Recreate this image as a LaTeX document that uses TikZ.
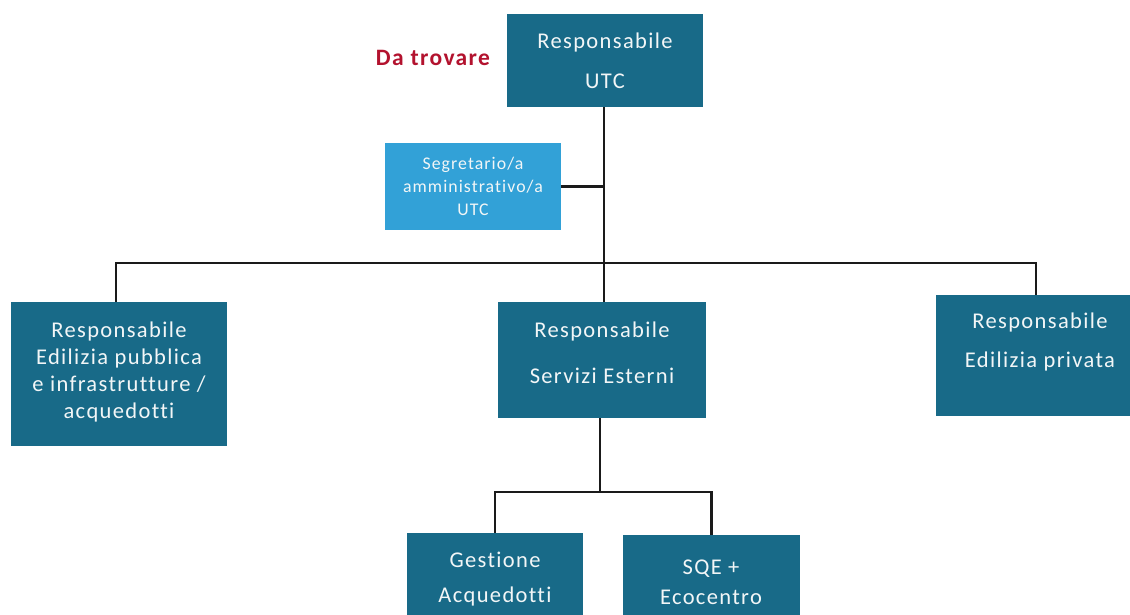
\documentclass[tikz,border=0pt]{standalone}
\usepackage{fontspec}
\setmainfont{Carlito}[LetterSpace=6, Ligatures={NoCommon,NoDiscretionary,NoRare}]
\definecolor{teal1}{HTML}{186A88}
\definecolor{sky1}{HTML}{32A1D7}
\definecolor{red1}{HTML}{B3122E}
\definecolor{line1}{HTML}{1A1A1A}
\definecolor{txt1}{HTML}{F2F6F7}
\tikzset{
  box/.style={fill=teal1, draw=none, inner sep=0pt},
  sbox/.style={fill=sky1, draw=none, inner sep=0pt},
  txt/.style={text=txt1, align=center, font=\fontsize{22.5}{27}\selectfont, inner sep=0pt},
  stxt/.style={text=txt1, align=center, font=\fontsize{17.8}{23}\selectfont, inner sep=0pt},
  conn/.style={draw=line1, line width=2.6pt},
}
\begin{document}
\begin{tikzpicture}[x=1pt,y=-1pt]
\useasboundingbox (0,0) rectangle (1130,615);
\clip (0,0) rectangle (1130,615);
\fill[white] (0,0) rectangle (1130,615);
% boxes
\node[box, minimum width=196pt, minimum height=93pt] (top) at (605,60.5) {};
\node[txt, font=\fontsize{22.5}{40}\selectfont] at (605,61) {Responsabile\\UTC};
\node[text=red1, font=\fontsize{23.5}{26}\selectfont\bfseries, inner sep=0pt] (da) at (433,58) {Da trovare};
\node[sbox, minimum width=176pt, minimum height=87pt] (seg) at (473,186.5) {};
\node[stxt] at (473,186) {Segretario/a\\amministrativo/a\\UTC};
\node[box, minimum width=216pt, minimum height=144pt] (left) at (119,374) {};
\node[txt] at (119,372) {Responsabile\\Edilizia pubblica\\e infrastrutture /\\acquedotti};
\node[box, minimum width=208pt, minimum height=116pt] (mid) at (602,360) {};
\node[txt, font=\fontsize{22.5}{46}\selectfont] at (602,353) {Responsabile\\Servizi Esterni};
\node[box, minimum width=204pt, minimum height=121pt] (right) at (1038,355.5) {};
\node[txt, font=\fontsize{22.5}{39}\selectfont] at (1040,342) {Responsabile\\Edilizia privata};
\node[box, minimum width=176pt, minimum height=100pt] (ges) at (495,583) {};
\node[txt, font=\fontsize{22.5}{35}\selectfont] at (495,579) {Gestione\\Acquedotti};
\node[box, minimum width=177pt, minimum height=100pt] (sqe) at (711.5,585) {};
\node[txt, font=\fontsize{22.5}{30}\selectfont] at (711,582.5) {SQE +\\Ecocentro};
% connectors
\coordinate (j1) at (604,263);
\coordinate (j2) at (600,492);
\draw[conn] (top.south -| j1) -- (j1);
\draw[conn] (seg.east) -- (seg.east -| j1);
\draw[conn] (left.north -| 116,0) |- (j1);
\draw[conn] (j1) -| (right.north -| 1036,0);
\draw[conn] (j1) -- (j1 |- mid.north);
\draw[conn] (mid.south -| j2) -- (j2);
\draw[conn] (ges.north) |- (j2);
\draw[conn] (j2) -| (sqe.north);
\end{tikzpicture}
\end{document}
